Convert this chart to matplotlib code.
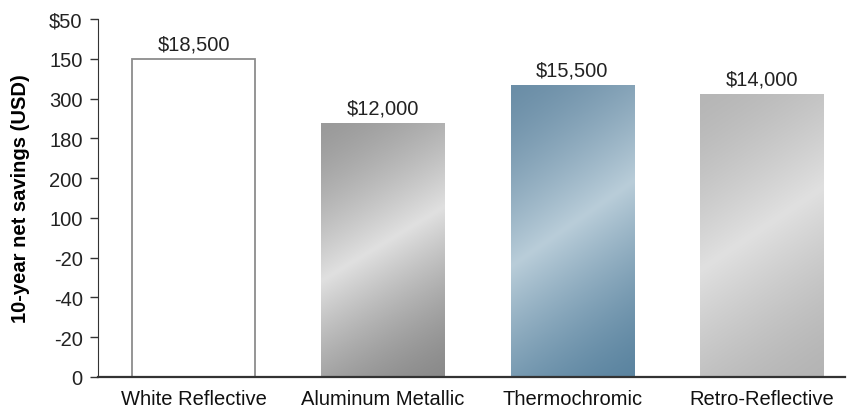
import matplotlib
matplotlib.use("Agg")
import matplotlib.pyplot as plt
import numpy as np
from matplotlib.colors import LinearSegmentedColormap

plt.rcParams['font.family'] = ['Liberation Sans', 'DejaVu Sans']

# данные
categories = ["White Reflective", "Aluminum Metallic", "Thermochromic", "Retro-Reflective"]
bar_heights = [8.0, 6.38, 7.35, 7.11]          # высота столбца в делениях оси
value_labels = ["$18,500", "$12,000", "$15,500", "$14,000"]
tick_labels = ["0", "-20", "-40", "-20", "100", "200", "180", "300", "150", "$50"]

# цвета градиента: (верх-лево, блик, низ-право)
bar_colors = [
    None,
    ("#9a9a9a", "#e0e0e0", "#8a8a8a"),
    ("#6b8ea7", "#b9cdd9", "#5b84a0"),
    ("#b6b6b6", "#e0e0e0", "#b4b4b4"),
]

fig = plt.figure(figsize=(8.48, 4.10), dpi=100)
ax = fig.add_axes([98 / 848, 32 / 410, 747 / 848, 358 / 410])

x = np.arange(len(categories))
width = 0.65

for i, (h, c) in enumerate(zip(bar_heights, bar_colors)):
    if c is None:
        ax.bar(x[i], h, width, color="white", edgecolor="#8c8c8c", linewidth=1.3, zorder=2)
        continue
    bar = ax.bar(x[i], h, width, color="none", edgecolor="none", zorder=2)[0]
    # диагональный градиент с бликом
    u = np.linspace(0, 1, 60)
    v = np.linspace(0, 1, 200)
    U, V = np.meshgrid(u, v)
    t = V - 0.38 - 0.29 * U
    d = np.where(t > 0, np.clip(t / 0.62, 0, 1), np.clip(-t / 0.68, 0, 1))
    s = (1 - d) ** 1.4  # 1 в блике, 0 по краям
    cmap = LinearSegmentedColormap.from_list("g", [c[0], c[1]])
    cmap2 = LinearSegmentedColormap.from_list("g2", [c[2], c[1]])
    rgb = np.where((t > 0)[..., None], cmap(s)[..., :3], cmap2(s)[..., :3])
    im = ax.imshow(rgb, extent=[x[i] - width / 2, x[i] + width / 2, 0, h],
                   origin="lower", aspect="auto", zorder=2, interpolation="bilinear")
    im.set_clip_path(bar)

for i, (h, lab) in enumerate(zip(bar_heights, value_labels)):
    ax.annotate(lab, (x[i], h), xytext=(0, 4), textcoords="offset points",
                ha="center", va="bottom", fontsize=14.5, color="#222222")

ax.set_xlim(-0.505, 3.44)
ax.set_ylim(0, 9)
ax.set_yticks(range(len(tick_labels)))
ax.set_yticklabels(tick_labels, fontsize=14.5, color="#222222")
ax.set_xticks(x)
ax.set_xticklabels(categories, fontsize=14.5, color="#111111")
ax.tick_params(axis="x", length=0, pad=9)
ax.tick_params(axis="y", length=6, width=1, color="#333333", pad=5)

for side in ["top", "right"]:
    ax.spines[side].set_visible(False)
ax.spines["left"].set_color("#333333")
ax.spines["bottom"].set_color("#333333")
ax.spines["bottom"].set_linewidth(1.6)

ax.set_ylabel("10-year net savings (USD)", fontsize=14.5, fontweight="bold", labelpad=14)

fig.savefig("out.png", dpi=100)
